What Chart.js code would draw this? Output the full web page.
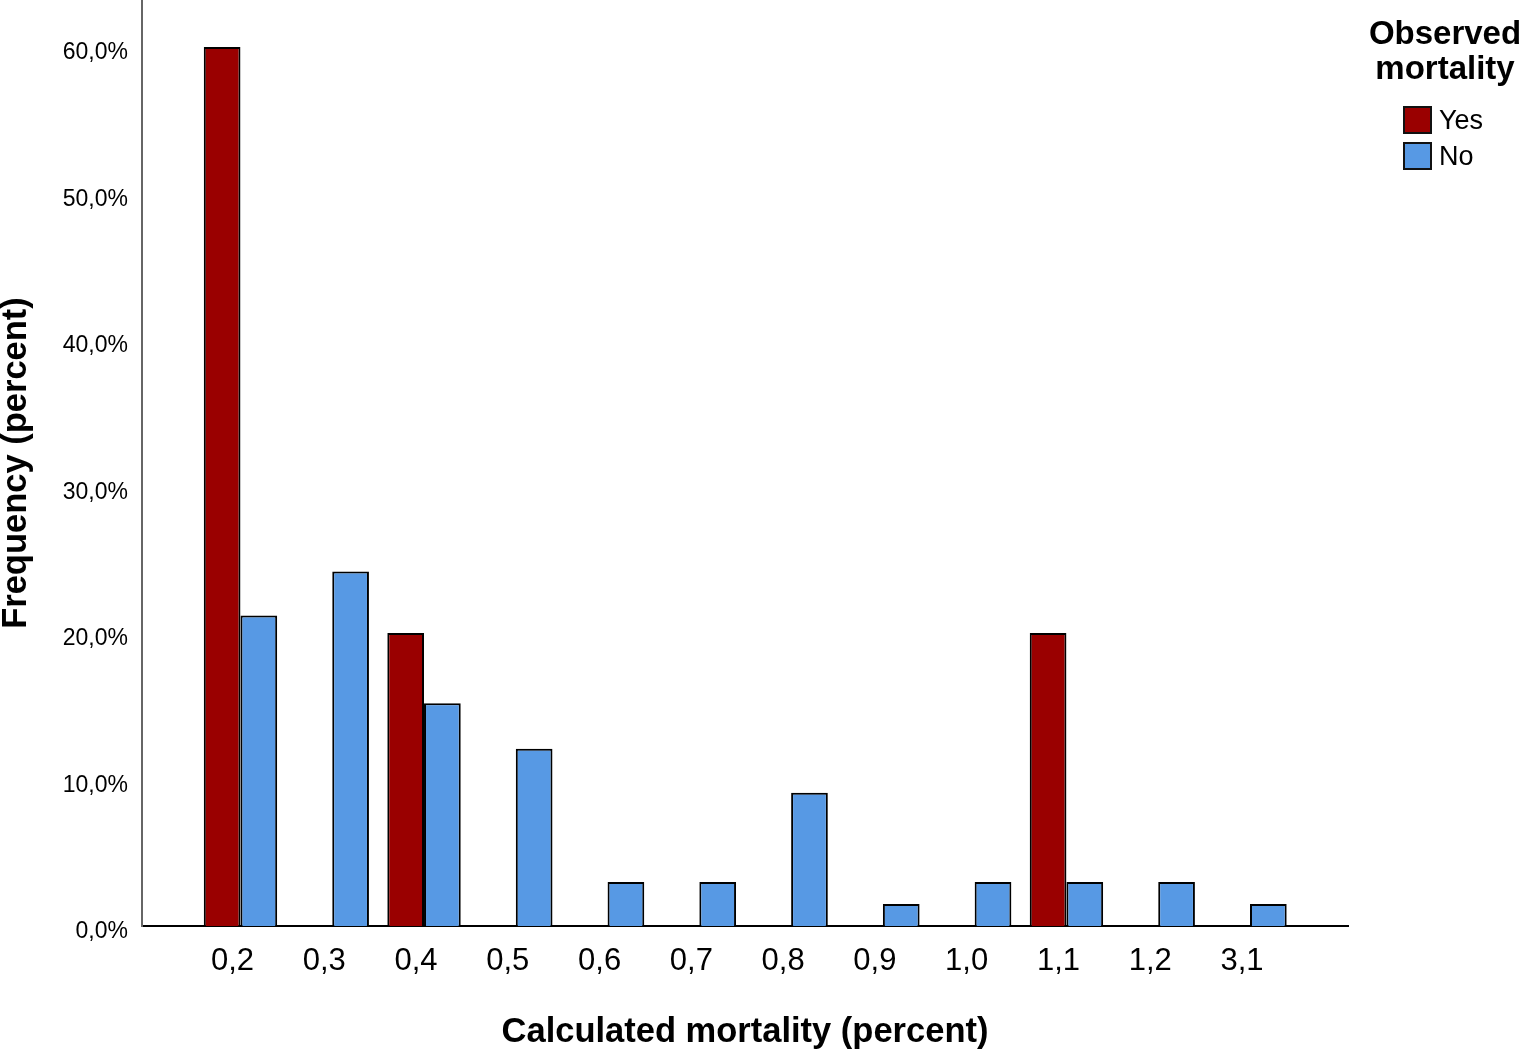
<!DOCTYPE html>
<html>
<head>
<meta charset="utf-8">
<script src="https://cdn.jsdelivr.net/npm/chart.js@4"></script>
<style>
  body { margin: 0; background: #fff; }
  #wrap { position: relative; width: 1524px; height: 1050px; }
  #legend { position: absolute; left: 1352px; top: 15px; width: 186px; font-family: "Liberation Sans", Arial, sans-serif; color: #000; }
  #legend .title { font-weight: bold; font-size: 33px; line-height: 35px; text-align: center; }
  #legend .items { margin-top: 17px; margin-left: 51px; }
  #legend .item { display: flex; align-items: center; height: 36px; font-size: 27px; }
  #legend .box { width: 25px; height: 24px; border: 2px solid #111; margin-right: 7px; }
</style>
</head>
<body>
<div id="wrap">
  <canvas id="chart" width="1524" height="1050"></canvas>
  <div id="legend"></div>
</div>
<script>
const categories = ['0,2', '0,3', '0,4', '0,5', '0,6', '0,7', '0,8', '0,9', '1,0', '1,1', '1,2', '3,1'];
const yesValues = [60.0, null, 20.0, null, null, null, null, null, null, 20.0, null, null];
const noValues = [21.2, 24.2, 15.2, 12.1, 3.0, 3.0, 9.1, 1.5, 3.0, 3.0, 3.0, 1.5];
const yTicks = [0, 10, 20, 30, 40, 50, 60];

const font = '"Liberation Sans", Arial, sans-serif';

function toPoints(values) {
    return values.map((v, i) => ({ x: i, y: v }));
}

const ctx = document.getElementById('chart').getContext('2d');
const chart = new Chart(ctx, {
    type: 'bar',
    data: {
        datasets: [
            {
                label: 'Yes',
                data: toPoints(yesValues),
                backgroundColor: '#9a0000',
                borderColor: '#000',
                borderWidth: 2
            },
            {
                label: 'No',
                data: toPoints(noValues),
                backgroundColor: '#5799e4',
                borderColor: '#000',
                borderWidth: 2
            }
        ]
    },
    options: {
        responsive: false,
        animation: false,
        devicePixelRatio: 1,
        layout: { padding: { left: 0, top: 0, bottom: 0, right: 176 } },
        datasets: { bar: { categoryPercentage: 0.8, barPercentage: 1.0 } },
        scales: {
            x: {
                type: 'linear',
                offset: false,
                min: -1.073,
                max: 12.068,
                grid: { display: false, drawTicks: false },
                border: { display: true, color: '#000', width: 2 },
                ticks: {
                    stepSize: 1,
                    includeBounds: false,
                    autoSkip: false,
                    maxRotation: 0,
                    padding: 17,
                    labelOffset: -8,
                    color: '#000',
                    font: { family: font, size: 31 },
                    callback: value => categories[value] || ''
                },
                title: {
                    display: true,
                    text: 'Calculated mortality (percent)',
                    color: '#000',
                    padding: { top: 0, bottom: -3 },
                    font: { family: font, size: 34.5, weight: 'bold' }
                },
                afterFit: scale => {
                    scale.height = 124;
                    scale.paddingLeft = 0;
                    scale.paddingRight = 0;
                }
            },
            y: {
                min: 0,
                max: 63.2,
                grid: { display: false, drawTicks: false },
                border: { display: true, color: '#666', width: 2 },
                afterBuildTicks: scale => {
                    scale.ticks = yTicks.map(v => ({ value: v }));
                },
                ticks: {
                    padding: 14,
                    labelOffset: 6,
                    color: '#000',
                    font: { family: font, size: 23 },
                    callback: value => value.toFixed(1).replace('.', ',') + '%'
                },
                title: {
                    display: true,
                    text: 'Frequency (percent)',
                    color: '#000',
                    padding: { top: -4, bottom: 0 },
                    font: { family: font, size: 34.5, weight: 'bold' }
                },
                afterFit: scale => {
                    scale.width = 142;
                    scale.paddingTop = 0;
                    scale.paddingBottom = 0;
                }
            }
        },
        plugins: {
            legend: { display: false },
            tooltip: { enabled: false }
        }
    }
});

// Legend on the right, built from the datasets
const legend = document.getElementById('legend');
legend.innerHTML = `
    <div class="title">Observed<br>mortality</div>
    <div class="items">
        ${chart.data.datasets.map(ds => `
            <div class="item"><span class="box" style="background:${ds.backgroundColor}"></span>${ds.label}</div>
        `).join('')}
    </div>
`;
</script>
</body>
</html>
